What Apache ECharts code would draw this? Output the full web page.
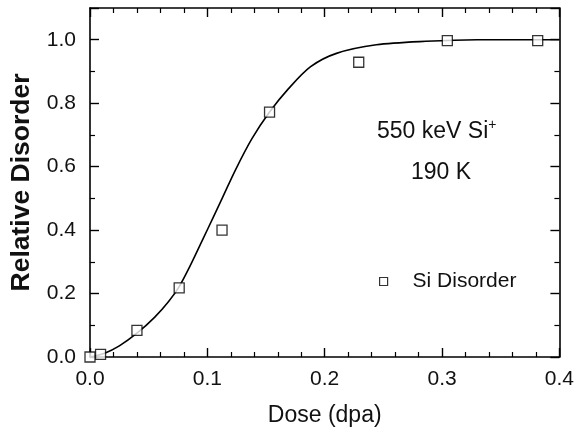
<!DOCTYPE html>
<html><head><meta charset="utf-8">
<script src="https://cdn.jsdelivr.net/npm/echarts@6/dist/echarts.min.js"></script>
<style>html,body{margin:0;padding:0;background:#fff}#c{width:577px;height:432px}</style>
</head><body><div id="c"></div>
<script>
// measured points (Si Disorder)
const doseData = [0.0, 0.009, 0.040, 0.076, 0.1125, 0.153, 0.229, 0.3045, 0.3815];
const disorderData = [0.0, 0.008, 0.084, 0.218, 0.40, 0.772, 0.929, 0.997, 0.997];
// fitted curve
const fitDose = [0.0, 0.0125, 0.025, 0.040, 0.055, 0.067, 0.076, 0.085, 0.096, 0.105, 0.113, 0.124, 0.138, 0.153, 0.169, 0.188, 0.210, 0.244, 0.286, 0.330, 0.400];
const fitDisorder = [0.0, 0.012, 0.035, 0.075, 0.125, 0.175, 0.222, 0.285, 0.370, 0.440, 0.503, 0.590, 0.688, 0.772, 0.845, 0.915, 0.957, 0.984, 0.995, 1.0, 1.0];
const xTickLabels = ['0.0', '0.1', '0.2', '0.3', '0.4'];
const yTickLabels = ['0.0', '0.2', '0.4', '0.6', '0.8', '1.0'];
const xTitle = 'Dose (dpa)';
const yTitle = 'Relative Disorder';
const seriesName = 'Si Disorder';

const FONT = "'Liberation Sans', Arial, Helvetica, sans-serif";
const axisLine = {show: true, onZero: false, lineStyle: {color: '#000', width: 1.6}};
const tick = {show: true, inside: true, length: 9, lineStyle: {color: '#000', width: 1.4}};
const minor = (n) => ({show: true, splitNumber: n, length: 5, lineStyle: {color: '#000', width: 1.2}});

const chart = echarts.init(document.getElementById('c'), null, {renderer: 'canvas'});
chart.setOption({
  animation: false,
  backgroundColor: '#fff',
  grid: {left: 88, right: 10, top: 8, bottom: 70},
  legend: {
    left: 374, top: 266,
    itemWidth: 8, itemHeight: 8,
    data: [{name: seriesName, icon: 'rect', itemStyle: {color: '#fff', borderColor: '#000', borderWidth: 1.2}}],
    textStyle: {fontFamily: FONT, fontSize: 21, color: '#111', padding: [0, 0, 0, 20]}
  },
  xAxis: [{
    type: 'value', min: 0, max: 0.4, interval: 0.1,
    axisLine: axisLine, axisTick: tick, minorTick: minor(5), splitLine: {show: false},
    axisLabel: {margin: 12, fontFamily: FONT, fontSize: 21, color: '#111',
      formatter: (v) => xTickLabels[Math.round(v * 10)]},
    name: xTitle, nameLocation: 'middle', nameGap: 47,
    nameTextStyle: {fontFamily: FONT, fontSize: 23, color: '#111'}
  }, {
    type: 'value', position: 'top', min: 0, max: 0.4, interval: 0.1,
    axisLine: axisLine, axisTick: tick, minorTick: minor(5), splitLine: {show: false},
    axisLabel: {show: false}
  }],
  yAxis: [{
    type: 'value', min: 0, max: 1.1, interval: 0.2,
    axisLine: axisLine, axisTick: tick, minorTick: minor(2), splitLine: {show: false},
    axisLabel: {margin: 14, fontFamily: FONT, fontSize: 21, color: '#111', showMaxLabel: false,
      formatter: (v) => { const i = Math.round(v * 5); return Math.abs(v * 5 - i) < 1e-6 ? yTickLabels[i] : ''; }},
    name: yTitle, nameLocation: 'middle', nameGap: 55,
    nameTextStyle: {fontFamily: FONT, fontSize: 26.5, fontWeight: 'bold', color: '#111'}
  }, {
    type: 'value', position: 'right', min: 0, max: 1.1, interval: 0.2,
    axisLine: axisLine, axisTick: tick, minorTick: minor(2), splitLine: {show: false},
    axisLabel: {show: false}
  }],
  graphic: [{
    type: 'text', left: 377, top: 118,
    style: {
      text: '550 keV Si{sup|+}', fontFamily: FONT, fontSize: 23, fill: '#111',
      rich: {sup: {fontFamily: FONT, fontSize: 14, fill: '#111', padding: [0, 0, 14, 0]}}
    }
  }, {
    type: 'text', left: 411, top: 161,
    style: {text: '190 K', fontFamily: FONT, fontSize: 23, fill: '#111'}
  }],
  series: [{
    type: 'line', name: 'fit', data: fitDose.map((x, i) => [x, fitDisorder[i]]),
    showSymbol: false, smooth: 0.3, lineStyle: {color: '#000', width: 1.6}, silent: true, z: 2
  }, {
    type: 'scatter', name: seriesName, data: doseData.map((x, i) => [x, disorderData[i]]),
    symbol: 'rect', symbolSize: 10,
    itemStyle: {color: '#fff', borderColor: '#000', borderWidth: 1.3}, z: 3
  }]
});
</script></body></html>
